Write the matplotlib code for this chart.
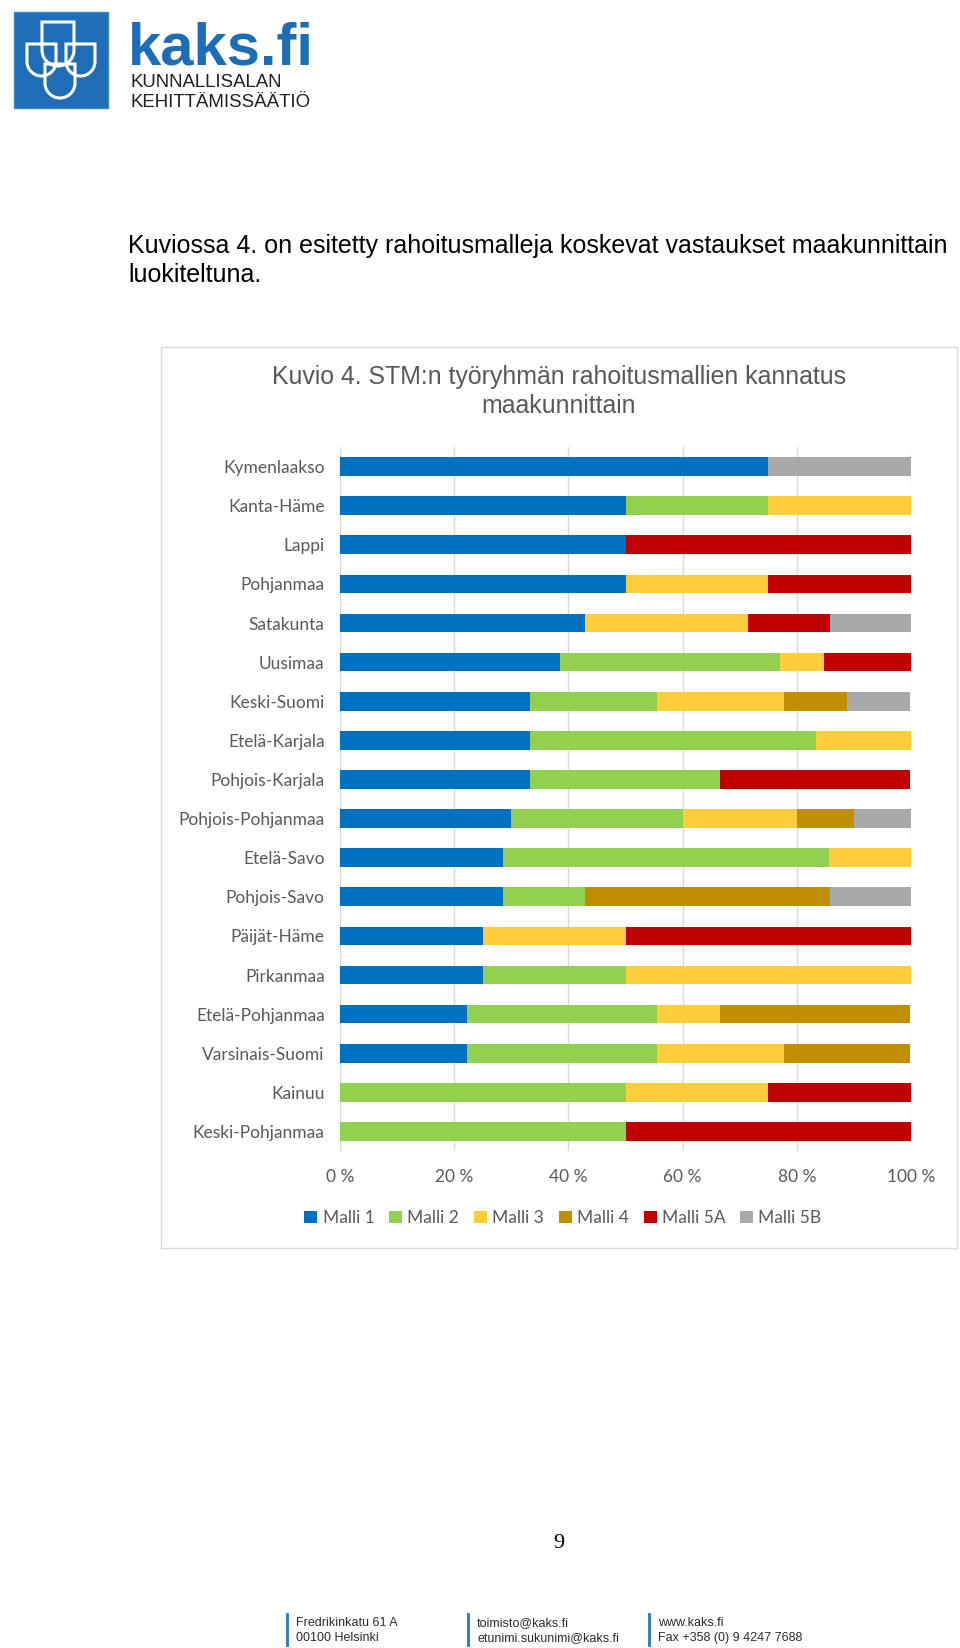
import matplotlib
matplotlib.use("Agg")
from matplotlib import pyplot as plt
from matplotlib.patches import Rectangle, Polygon
import numpy as np

# maakunnat ylhaalta alas
maakunnat = ["Kymenlaakso", "Kanta-Häme", "Lappi", "Pohjanmaa", "Satakunta",
             "Uusimaa", "Keski-Suomi", "Etelä-Karjala", "Pohjois-Karjala",
             "Pohjois-Pohjanmaa", "Etelä-Savo", "Pohjois-Savo", "Päijät-Häme",
             "Pirkanmaa", "Etelä-Pohjanmaa", "Varsinais-Suomi", "Kainuu",
             "Keski-Pohjanmaa"]

# osuudet prosentteina
malli1 = [75, 50, 50, 50, 42.9, 38.5, 33.3, 33.3, 33.3, 30, 28.6, 28.6, 25, 25, 22.2, 22.2, 0, 0]
malli2 = [0, 25, 0, 0, 0, 38.5, 22.2, 50, 33.3, 30, 57.1, 14.3, 0, 25, 33.3, 33.3, 50, 50]
malli3 = [0, 25, 0, 25, 28.6, 7.7, 22.2, 16.7, 0, 20, 14.3, 0, 25, 50, 11.1, 22.2, 25, 0]
malli4 = [0, 0, 0, 0, 0, 0, 11.1, 0, 0, 10, 0, 42.9, 0, 0, 33.3, 22.2, 0, 0]
malli5a = [0, 0, 50, 25, 14.3, 15.4, 0, 0, 33.3, 0, 0, 0, 50, 0, 0, 0, 25, 50]
malli5b = [25, 0, 0, 0, 14.3, 0, 11.1, 0, 0, 10, 0, 14.3, 0, 0, 0, 0, 0, 0]

sarjat = ["Malli 1", "Malli 2", "Malli 3", "Malli 4", "Malli 5A", "Malli 5B"]
varit = ["#0070C0", "#92D050", "#FFCC3A", "#BF8F00", "#C00000", "#A9A9A9"]
xtikit = [0, 20, 40, 60, 80, 100]

W, H = 960, 1648
fig = plt.figure(figsize=(W / 100, H / 100), dpi=100)
fig.patch.set_facecolor("white")

# sivun koristeet pikselikoordinaateissa
page = fig.add_axes([0, 0, 1, 1], zorder=0)
page.set_xlim(0, W)
page.set_ylim(H, 0)
page.axis("off")

# logo
page.add_patch(Rectangle((14, 12), 94, 96, facecolor="#1E6DB6", edgecolor="#3B86C8", lw=1))
def kilpi(x0, x1, ytop, ybot):
    r = (x1 - x0) / 2
    t = np.linspace(np.pi, 2 * np.pi, 30)
    xs = list(x0 + r + r * np.cos(t))
    ys = list(ybot - r - r * np.sin(t))
    pts = [(x1, ytop), (x0, ytop)] + [(x0, ybot - r)] + list(zip(xs, ys)) + [(x1, ybot - r)]
    return Polygon(pts, closed=True, fill=False, edgecolor="white", lw=2.2)
page.add_patch(kilpi(42, 74, 22, 66))
page.add_patch(kilpi(27, 56, 44, 76))
page.add_patch(kilpi(66, 95, 44, 76))
page.add_patch(kilpi(45, 75, 64, 98))

page.text(128, 64, "kaks.fi", fontsize=43, fontweight="bold", color="#1C6DB5",
          family="Liberation Sans", ha="left", va="baseline")
page.text(131, 87, "KUNNALLISALAN", fontsize=13.4, color="#231F20",
          family="Liberation Sans", ha="left", va="baseline")
page.text(131, 107, "KEHITTÄMISSÄÄTIÖ", fontsize=13.4, color="#231F20",
          family="Liberation Sans", ha="left", va="baseline")

# leipateksti
page.text(128, 246, "Kuviossa 4. on esitetty rahoitusmalleja koskevat vastaukset maakunnittain",
          fontsize=18, family="Liberation Sans", color="black", ha="left", va="center")
page.text(128, 275, "luokiteltuna.", fontsize=18, family="Liberation Sans",
          color="black", ha="left", va="center")

# kaavion kehys ja otsikko
page.add_patch(Rectangle((161, 347), 796, 901, facecolor="white", edgecolor="#D9D9D9", lw=1))
page.text(559, 377, "Kuvio 4. STM:n työryhmän rahoitusmallien kannatus", fontsize=17.9,
          family="Liberation Sans", color="#595959", ha="center", va="center")
page.text(559, 406, "maakunnittain", fontsize=17.9,
          family="Liberation Sans", color="#595959", ha="center", va="center")

# sivunumero
page.text(559, 1544, "9", fontsize=16, family="Liberation Serif", color="black",
          ha="center", va="center")

# alatunniste
alat = [(287, "Fredrikinkatu 61 A", "00100 Helsinki"),
        (468, "toimisto@kaks.fi", "etunimi.sukunimi@kaks.fi"),
        (649, "www.kaks.fi", "Fax +358 (0) 9 4247 7688")]
for x, r1, r2 in alat:
    page.plot([x, x], [1614, 1645], color="#2A75BB", lw=2)
    page.text(x + 9, 1623, r1, fontsize=9, color="#2B2B2B",
              family="Liberation Sans", ha="left", va="center")
    page.text(x + 9, 1638, r2, fontsize=9, color="#2B2B2B",
              family="Liberation Sans", ha="left", va="center")

# pylvaskaavio
ax = fig.add_axes([340 / W, 1 - 1151 / H, 571 / W, 704 / H], zorder=2)
ax.patch.set_alpha(0)
y = np.arange(len(maakunnat))
vasen = np.zeros(len(maakunnat))
for nimi, arvot, vari in zip(sarjat, [malli1, malli2, malli3, malli4, malli5a, malli5b], varit):
    arvot = np.array(arvot, dtype=float)
    ax.barh(y, arvot, left=vasen, height=0.48, color=vari, label=nimi, zorder=3)
    vasen += arvot

ax.set_xlim(0, 100)
ax.set_ylim(len(maakunnat) - 0.5, -0.5)
ax.set_xticks(xtikit)
ax.set_xticklabels(["%d %%" % t for t in xtikit])
ax.set_yticks(y)
ax.set_yticklabels(maakunnat)
ax.tick_params(length=0, labelsize=12.5, labelcolor="#595959")
ax.tick_params(axis="x", pad=13)
ax.tick_params(axis="y", pad=11)
for lab in ax.get_xticklabels() + ax.get_yticklabels():
    lab.set_family("Lato")
ax.grid(axis="x", color="#D9D9D9", lw=1, zorder=0)
for s in ax.spines.values():
    s.set_visible(False)

leg = fig.legend(loc="center", bbox_to_anchor=(563 / W, 1 - 1218 / H), ncol=6,
                 frameon=False, handlelength=0.75, handleheight=0.75,
                 handletextpad=0.3, columnspacing=0.85,
                 prop={"family": "Lato", "size": 12.5})
for t in leg.get_texts():
    t.set_color("#595959")

fig.savefig("out.png", dpi=100, facecolor="white")
